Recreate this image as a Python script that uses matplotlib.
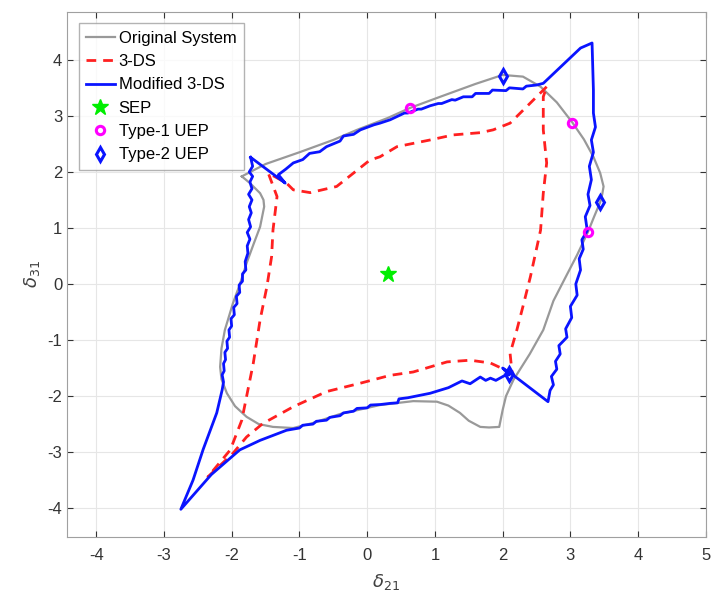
import matplotlib
matplotlib.use("Agg")
import matplotlib.pyplot as plt
import numpy as np

plt.rcParams["font.family"] = ["Liberation Sans", "DejaVu Sans"]
plt.rcParams["mathtext.fontset"] = "dejavusans"
plt.rcParams["axes.unicode_minus"] = False

# ---- Original System (gray) ----
orig_x = [-1.85, -1.50, -1.00, -0.50, -0.15, 0.30, 0.63, 1.10, 1.60, 2.00,
          2.30, 2.56, 2.80, 3.03, 3.20, 3.34, 3.44, 3.49, 3.47, 3.44,
          3.35, 3.26, 3.10, 2.92, 2.75, 2.60, 2.40, 2.16, 2.05, 2.00,
          1.95, 1.80, 1.67, 1.50, 1.37, 1.20, 1.03, 0.68, 0.19, -0.40,
          -0.80, -1.09, -1.39, -1.60, -1.78, -1.95, -2.07, -2.15, -2.17, -2.15,
          -2.10, -1.98, -1.88, -1.78, -1.68, -1.58, -1.52, -1.53, -1.58, -1.73,
          -1.85]
orig_y = [1.92, 2.14, 2.35, 2.57, 2.75, 2.96, 3.14, 3.35, 3.57, 3.73,
          3.70, 3.52, 3.24, 2.88, 2.58, 2.27, 1.98, 1.74, 1.60, 1.46,
          1.20, 0.93, 0.52, 0.10, -0.30, -0.82, -1.25, -1.71, -2.00, -2.25,
          -2.55, -2.56, -2.55, -2.44, -2.30, -2.17, -2.10, -2.09, -2.16, -2.32,
          -2.48, -2.57, -2.55, -2.50, -2.37, -2.18, -1.95, -1.70, -1.48, -1.15,
          -0.82, -0.34, -0.01, 0.37, 0.70, 1.02, 1.38, 1.50, 1.62, 1.80,
          1.92]

# ---- 3-DS (red dashed) ----
ds_x = [2.65, 2.36, 2.11, 1.86, 1.67, 1.27, 0.93, 0.44, 0.19, 0.04,
        -0.20, -0.45, -0.84, -1.09, -1.19, -1.46, -1.33, -1.39, -1.41, -1.48,
        -1.58, -1.68, -1.85, -2.02, -2.35, -1.98, -1.78, -1.54, -1.09, -0.60,
        -0.10, 0.34, 0.68, 1.18, 1.52, 1.82, 2.14, 2.11, 2.21, 2.30,
        2.41, 2.56, 2.60, 2.65, 2.60, 2.60, 2.65]
ds_y = [3.52, 3.17, 2.87, 2.75, 2.70, 2.66, 2.57, 2.45, 2.27, 2.21,
        1.98, 1.74, 1.63, 1.68, 1.80, 1.98, 1.56, 0.96, 0.49, -0.05,
        -0.64, -1.41, -2.43, -2.96, -3.44, -3.02, -2.73, -2.49, -2.19, -1.92,
        -1.77, -1.63, -1.57, -1.39, -1.36, -1.41, -1.59, -1.24, -0.82, -0.40,
        0.13, 0.96, 1.62, 2.16, 2.75, 3.34, 3.52]

# ---- Modified 3-DS (blue) ----
mod_x = [-1.72, -1.69, -1.74, -1.69, -1.73, -1.70, -1.75, -1.70, -1.74, -1.71,
         -1.75, -1.72, -1.77, -1.73, -1.77, -1.76, -1.80, -1.79, -1.84, -1.84,
         -1.89, -1.88, -1.93, -1.92, -1.97, -1.96, -2.01, -2.00, -2.04, -2.03,
         -2.07, -2.06, -2.10, -2.09, -2.12, -2.11, -2.14, -2.12, -2.14, -2.22,
         -2.37, -2.42, -2.57, -2.75, -2.30, -1.88, -1.58, -1.19, -1.00, -0.95,
         -0.80, -0.75, -0.60, -0.55, -0.40, -0.35, -0.20, -0.15, 0.00, 0.05,
         0.20, 0.34, 0.45, 0.47, 0.60, 0.93, 1.20, 1.40, 1.52, 1.67,
         1.75, 1.82, 1.90, 2.02, 2.10, 2.00, 2.15, 2.67, 2.70, 2.75,
         2.72, 2.80, 2.78, 2.85, 2.83, 2.95, 2.93, 3.02, 3.00, 3.10,
         3.08, 3.15, 3.13, 3.19, 3.17, 3.25, 3.22, 3.29, 3.26, 3.31,
         3.28, 3.34, 3.31, 3.37, 3.34, 3.34, 3.32, 3.15, 2.60, 2.50,
         2.35, 2.30, 2.10, 2.05, 1.85, 1.80, 1.60, 1.55, 1.42, 1.30,
         1.25, 1.10, 1.05, 0.93, 0.80, 0.75, 0.60, 0.55, 0.34, 0.19,
         0.10, -0.10, -0.20, -0.35, -0.40, -0.60, -0.70, -0.85, -0.95, -1.09,
         -1.20, -1.31, -1.21, -1.72]
mod_y = [2.26, 2.10, 2.00, 1.92, 1.82, 1.70, 1.60, 1.50, 1.38, 1.27,
         1.15, 1.02, 0.92, 0.80, 0.68, 0.55, 0.40, 0.25, 0.18, 0.05,
         -0.02, -0.15, -0.22, -0.35, -0.42, -0.55, -0.62, -0.75, -0.82, -0.95,
         -1.02, -1.15, -1.22, -1.35, -1.42, -1.55, -1.62, -1.75, -1.89, -2.30,
         -2.79, -2.95, -3.50, -4.02, -3.40, -2.96, -2.79, -2.61, -2.57, -2.52,
         -2.50, -2.45, -2.43, -2.38, -2.35, -2.30, -2.27, -2.22, -2.21, -2.16,
         -2.15, -2.13, -2.12, -2.05, -2.03, -1.95, -1.85, -1.73, -1.78, -1.66,
         -1.72, -1.68, -1.72, -1.64, -1.62, -1.50, -1.62, -2.10, -1.90, -1.80,
         -1.65, -1.52, -1.38, -1.25, -1.10, -0.95, -0.80, -0.60, -0.40, -0.20,
         0.00, 0.25, 0.45, 0.62, 0.79, 0.95, 1.20, 1.40, 1.60, 1.86,
         2.10, 2.35, 2.57, 2.80, 3.05, 3.46, 4.30, 4.21, 3.58, 3.55,
         3.53, 3.48, 3.50, 3.45, 3.46, 3.40, 3.40, 3.34, 3.34, 3.28,
         3.29, 3.22, 3.22, 3.18, 3.12, 3.12, 3.05, 3.05, 2.93, 2.87,
         2.84, 2.75, 2.67, 2.64, 2.55, 2.45, 2.36, 2.33, 2.22, 2.16,
         2.05, 1.95, 1.80, 2.26]

sep = (0.315, 0.18)
uep1_x = [0.635, 3.03, 3.26]
uep1_y = [3.14, 2.88, 0.93]
uep2_x = [2.01, 3.44, 2.10]
uep2_y = [3.72, 1.46, -1.60]

fig = plt.figure(figsize=(7.13, 6.11), dpi=100)
ax = fig.add_axes([0.094, 0.1206, 0.896, 0.8604])

ax.plot(orig_x, orig_y, color="#999999", lw=1.6, label="Original System")
ax.plot(ds_x, ds_y, color="#ff2020", lw=2.0, ls=(0, (3.5, 2.5)), label="3-DS")
ax.plot(mod_x, mod_y, color="#0a14ff", lw=2.0, label="Modified 3-DS")
ax.plot(*sep, marker="*", color="#00ee00", ms=12, ls="none", label="SEP")
ax.plot(uep1_x, uep1_y, marker="o", mfc="none", mec="#ff00ff", mew=2.2, ms=6,
        ls="none", label="Type-1 UEP")
ax.plot(uep2_x, uep2_y, marker="d", mfc="none", mec="#0a14ff", mew=2.2, ms=7,
        ls="none", label="Type-2 UEP")

ax.set_xlim(-4.43, 5)
ax.set_ylim(-4.52, 4.86)
ax.set_xticks(range(-4, 6))
ax.set_yticks(range(-4, 5))
ax.grid(True, color="#e6e6e6", lw=0.8)
ax.set_axisbelow(True)
ax.tick_params(direction="in", top=True, right=True, labelsize=12,
               colors="#333333", length=4)
ax.tick_params(axis="x", pad=8)
for s in ax.spines.values():
    s.set_color("#a0a0a0")
ax.set_xlabel(r"$\delta_{21}$", fontsize=13, color="#404040", labelpad=6)
ax.set_ylabel(r"$\delta_{31}$", fontsize=13, color="#404040")

leg = ax.legend(loc="upper left", fontsize=12, frameon=True, fancybox=False,
                borderpad=0.45, labelspacing=0.5, handlelength=1.7,
                handletextpad=0.25, borderaxespad=0.7)
leg.get_frame().set_edgecolor("#a0a0a0")
leg.get_frame().set_linewidth(1.0)

fig.savefig("out.png", dpi=100)
